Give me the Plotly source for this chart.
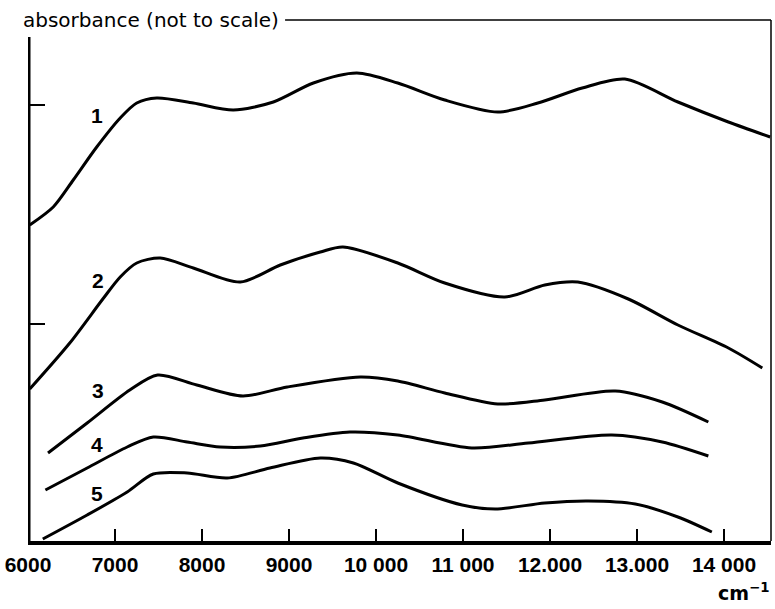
import plotly.graph_objects as go

# wavenumber (cm^-1) and absorbance (arbitrary units, not to scale)
c1_x = [6020, 6290, 6520, 6790, 7060, 7250, 7480, 7900, 8360, 8820, 9280, 9780, 10250, 10790, 11400, 11860, 12370, 12860, 13470, 14050, 14530]
c1_y = [316, 334, 361, 394, 423, 438, 443, 438, 431, 439, 458, 468, 458, 441, 429, 438, 453, 462, 439, 419, 404]

c2_x = [6020, 6480, 6860, 7060, 7250, 7520, 7900, 8440, 8900, 9360, 9620, 10250, 10790, 11480, 11940, 12320, 12900, 13470, 14050, 14440]
c2_y = [152, 198, 242, 264, 278, 283, 273, 259, 276, 289, 294, 278, 258, 244, 256, 259, 242, 216, 193, 173]

c3_x = [6230, 6680, 7170, 7490, 7940, 8470, 8980, 9820, 10250, 10790, 11400, 11940, 12750, 13290, 13820]
c3_y = [88, 118, 151, 166, 156, 145, 154, 164, 160, 148, 137, 141, 150, 139, 119]

c4_x = [6200, 6680, 7140, 7440, 7830, 8210, 8670, 9160, 9700, 10250, 11100, 11750, 12710, 13290, 13820]
c4_y = [51, 73, 94, 104, 99, 94, 95, 103, 109, 106, 93, 98, 106, 99, 85]

c5_x = [6170, 6680, 7140, 7440, 7830, 8290, 8780, 9360, 9740, 10250, 10990, 11370, 11940, 12440, 12980, 13470, 13860]
c5_y = [2, 26, 49, 67, 68, 63, 73, 83, 78, 58, 36, 32, 38, 40, 37, 24, 9]

curve_names = ["1", "2", "3", "4", "5"]
x_tickvals = [6000, 7000, 8000, 9000, 10000, 11000, 12000, 13000, 14000]
x_ticktext = ["6000", "7000", "8000", "9000", "10 000", "11 000", "12.000", "13.000", "14 000"]
y_tickvals = [217, 436]

X_RANGE = [6000, 14540]
Y_RANGE = [0, 521]

fig = go.Figure()
for xs, ys, nm in zip([c1_x, c2_x, c3_x, c4_x, c5_x], [c1_y, c2_y, c3_y, c4_y, c5_y], curve_names):
    fig.add_trace(go.Scatter(x=xs, y=ys, mode="lines", name=nm,
                             line=dict(color="black", width=3, shape="spline", smoothing=0.8),
                             showlegend=False, hoverinfo="skip"))

# curve number labels
label_pos = [(6790, 426), (6800, 261), (6800, 151), (6790, 97), (6790, 48)]
for nm, (lx, ly) in zip(curve_names, label_pos):
    fig.add_annotation(x=lx, y=ly, text=nm, showarrow=False,
                       font=dict(family="Liberation Sans", size=21, color="black", weight="bold"))

# title at top-left
fig.add_annotation(xref="paper", yref="paper", x=-0.009, y=1.0, xanchor="left", yanchor="middle",
                   text="absorbance (not to scale)", showarrow=False,
                   font=dict(family="DejaVu Sans", size=20, color="black"))

# unit label
fig.add_annotation(xref="paper", yref="paper", x=1.0, y=-0.125, xanchor="right", yanchor="bottom",
                   text="cm<sup>−1</sup>", showarrow=False,
                   font=dict(family="DejaVu Sans", size=19, color="black", weight="bold"))

# frame: thick left axis, thin top (partial) and right lines
fig.add_shape(type="line", xref="x", yref="y", x0=X_RANGE[0], x1=X_RANGE[0], y0=0, y1=504,
              line=dict(color="black", width=5))
fig.add_shape(type="line", xref="paper", yref="paper", x0=0.346, x1=1.0, y0=1.0, y1=1.0,
              line=dict(color="black", width=1.5))
fig.add_shape(type="line", xref="paper", yref="paper", x0=1.0, x1=1.0, y0=0.0, y1=1.0,
              line=dict(color="black", width=1.5))

fig.update_layout(
    width=775, height=609,
    margin=dict(l=28, r=4, t=20, b=68),
    paper_bgcolor="white", plot_bgcolor="white",
    xaxis=dict(range=X_RANGE, showgrid=False, zeroline=False, showline=True,
               linecolor="black", linewidth=4, ticks="inside", ticklen=12, tickwidth=2,
               tickcolor="black", tickvals=x_tickvals, ticktext=x_ticktext,
               tickfont=dict(family="Liberation Sans", size=21, color="black", weight="bold"),
               ticklabelstandoff=2),
    yaxis=dict(range=Y_RANGE, showgrid=False, zeroline=False, showline=False,
               ticks="inside", ticklen=17, tickwidth=2, tickcolor="black",
               tickvals=y_tickvals, showticklabels=False),
)

fig.write_html("out.html")
